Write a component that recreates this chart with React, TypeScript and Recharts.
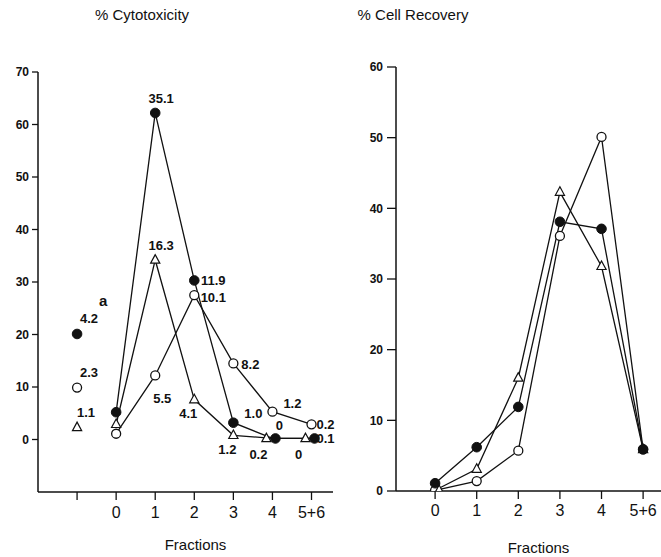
import React from "react";
import { LineChart, Line, XAxis, YAxis, LabelList, Label } from "recharts";

// ---------- data ----------
const fractionLabels = ["", "0", "1", "2", "3", "4", "5+6"];
const cytoPositions = [-1, 0, 1, 2, 3, 4, 5];
const cytoTicksY = [0, 10, 20, 30, 40, 50, 60, 70];

const cytoFilled = [20.1, 5.2, 62.2, 30.3, 3.2, 0.2, 0.2];
const cytoOpen = [9.9, 1.1, 12.2, 27.5, 14.5, 5.3, 2.9];
const cytoTri = [2.3, 2.9, 34.2, 7.6, 0.8, 0.2, 0.2];

const cytoFilledLabels = ["4.2", "", "35.1", "11.9", "1.0", "0", "0.1"];
const cytoOpenLabels = ["2.3", "", "5.5", "10.1", "8.2", "1.2", "0.2"];
const cytoTriLabels = ["1.1", "", "16.3", "4.1", "1.2", "0.2", "0"];

const recPositions = [0, 1, 2, 3, 4, 5];
const recTicksY = [0, 10, 20, 30, 40, 50, 60];
const recFilled = [1.1, 6.2, 11.9, 38.1, 37.1, 5.9];
const recOpen = [0.1, 1.4, 5.7, 36.1, 50.1, 5.9];
const recTri = [0.1, 3.1, 16.0, 42.3, 31.8, 5.9];

// ---------- label placement (style only) ----------
const filledLabelOffsets = [[12, -15], [0, 0], [6, -14], [19, 0], [20, -9], [7, -13], [14, 0]];
const openLabelOffsets = [[12, -15], [0, 0], [7, 23], [19, 2], [17, 1], [20, -8], [14, 0]];
const triLabelOffsets = [[9, -15], [0, 0], [6, -14], [-6, 14], [-6, 14], [-14, 16], [-13, 16]];

// ---------- table building ----------
const cytoData = cytoPositions.map((x, i) => ({
  x,
  fAll: cytoFilled[i],
  f: i === 0 ? null : cytoFilled[i],
  fLab: cytoFilledLabels[i],
  oAll: cytoOpen[i],
  o: i === 0 ? null : cytoOpen[i],
  oLab: cytoOpenLabels[i],
  tAll: cytoTri[i],
  t: i === 0 ? null : cytoTri[i],
  tLab: cytoTriLabels[i],
}));

const recData = recPositions.map((x, i) => ({
  x,
  f: recFilled[i],
  o: recOpen[i],
  t: recTri[i],
}));

const FONT = "'Liberation Sans', Arial, sans-serif";
const INK = "#111";

type Kind = "filled" | "open" | "tri";

function makeDot(kind: Kind, nudge?: (index: number, value: number) => number) {
  return (p: any) => {
    const key = `d-${kind}-${p.index}`;
    if (p.cx == null || p.cy == null || p.value == null) return <g key={key} />;
    const dx = nudge ? nudge(p.index, p.value) : 0;
    const cx = p.cx + dx;
    const cy = p.cy;
    if (kind === "filled") return <circle key={key} cx={cx} cy={cy} r={4.8} fill={INK} stroke={INK} />;
    if (kind === "open")
      return <circle key={key} cx={cx} cy={cy} r={4.5} fill="#fff" stroke={INK} strokeWidth={1.3} />;
    const s = 4.6;
    return (
      <polygon
        key={key}
        points={`${cx},${cy - s * 1.15} ${cx - s},${cy + s * 0.7} ${cx + s},${cy + s * 0.7}`}
        fill="#fff"
        stroke={INK}
        strokeWidth={1.2}
      />
    );
  };
}

function makeLabel(offsets: number[][]) {
  return (p: any) => {
    const x = p.x ?? p.viewBox?.x;
    const y = p.y ?? p.viewBox?.y;
    if (!p.value || x == null || y == null) return null;
    const [dx, dy] = offsets[p.index] || [0, 0];
    return (
      <text
        key={`l-${p.index}-${p.value}`}
        x={x + dx}
        y={y + dy}
        textAnchor="middle"
        dominantBaseline="central"
        fontFamily={FONT}
        fontSize={13}
        fontWeight="bold"
        fill={INK}
      >
        {p.value}
      </text>
    );
  };
}

const fractionsLabel = (dx: number, dy: number) => (p: any) => {
  const vb = p.viewBox || {};
  return (
    <text
      x={vb.x + vb.width / 2 + dx}
      y={vb.y + dy}
      textAnchor="middle"
      fontFamily={FONT}
      fontSize={15}
      fill={INK}
    >
      Fractions
    </text>
  );
};

const tickFmt = (v: number) => fractionLabels[v + 1] ?? "";

// nudges so overlapping zero points stay visible (style only)
const filledNudge = (i: number, v: number) => (i >= 5 && v < 1 ? 3 : 0);
const triNudge = (i: number, v: number) => (i >= 5 && v < 1 ? -6 : 0);

export default function App() {
  return (
    <div style={{ position: "absolute", left: 0, top: 0, width: 661, height: 557, background: "#fff", fontFamily: FONT }}>
      <div style={{ position: "absolute", left: 42, width: 200, top: 6, textAlign: "center", fontSize: 15, color: INK }}>
        % Cytotoxicity
      </div>
      <div style={{ position: "absolute", left: 313, width: 200, top: 6, textAlign: "center", fontSize: 15, color: INK }}>
        % Cell Recovery
      </div>
      <div style={{ position: "absolute", left: 99, top: 292, fontSize: 15, fontWeight: "bold", color: INK }}>a</div>

      <div style={{ position: "absolute", left: 0, top: 0 }}>
        <LineChart width={340} height={557} data={cytoData} margin={{ top: 72, right: 7, bottom: 13, left: 0 }}>
          <XAxis
            type="number"
            dataKey="x"
            domain={[-2, 5.55]}
            ticks={cytoPositions}
            tickFormatter={tickFmt}
            allowDataOverflow
            interval={0}
            height={52}
            tickSize={8}
            tickMargin={7}
            axisLine={{ stroke: INK, strokeWidth: 1.5 }}
            tickLine={{ stroke: INK, strokeWidth: 1.3 }}
            tick={{ fontSize: 16, fill: INK, fontFamily: FONT }}
          >
            <Label content={fractionsLabel(10, 58)} />
          </XAxis>
          <YAxis
            type="number"
            domain={[-10, 70]}
            ticks={cytoTicksY}
            allowDataOverflow
            interval={0}
            width={38}
            tickSize={6}
            tickMargin={3}
            axisLine={{ stroke: INK, strokeWidth: 1.5 }}
            tickLine={{ stroke: INK, strokeWidth: 1.3 }}
            tick={{ fontSize: 12, fill: INK, fontFamily: FONT, fontWeight: "bold" }}
          />
          <Line dataKey="o" stroke={INK} strokeWidth={1.3} dot={false} isAnimationActive={false} />
          <Line dataKey="t" stroke={INK} strokeWidth={1.3} dot={false} isAnimationActive={false} />
          <Line dataKey="f" stroke={INK} strokeWidth={1.3} dot={false} isAnimationActive={false} />
          <Line dataKey="oAll" stroke="none" dot={makeDot("open")} isAnimationActive={false}>
            <LabelList dataKey="oLab" content={makeLabel(openLabelOffsets)} />
          </Line>
          <Line dataKey="tAll" stroke="none" dot={makeDot("tri", triNudge)} isAnimationActive={false}>
            <LabelList dataKey="tLab" content={makeLabel(triLabelOffsets)} />
          </Line>
          <Line dataKey="fAll" stroke="none" dot={makeDot("filled", filledNudge)} isAnimationActive={false}>
            <LabelList dataKey="fLab" content={makeLabel(filledLabelOffsets)} />
          </Line>
        </LineChart>
      </div>

      <div style={{ position: "absolute", left: 330, top: 0 }}>
        <LineChart width={331} height={557} data={recData} margin={{ top: 67, right: 0, bottom: 14, left: 0 }}>
          <XAxis
            type="number"
            dataKey="x"
            domain={[-0.94, 5.43]}
            ticks={recPositions}
            tickFormatter={(v: number) => fractionLabels[v + 1] ?? ""}
            allowDataOverflow
            interval={0}
            height={52}
            tickSize={8}
            tickMargin={6}
            axisLine={{ stroke: INK, strokeWidth: 1.5 }}
            tickLine={{ stroke: INK, strokeWidth: 1.3 }}
            tick={{ fontSize: 16, fill: INK, fontFamily: FONT }}
          >
            <Label content={fractionsLabel(10, 62)} />
          </XAxis>
          <YAxis
            type="number"
            domain={[0, 60]}
            ticks={recTicksY}
            allowDataOverflow
            interval={0}
            width={66}
            tickSize={9}
            tickMargin={4}
            axisLine={{ stroke: INK, strokeWidth: 1.5 }}
            tickLine={{ stroke: INK, strokeWidth: 1.3 }}
            tick={{ fontSize: 12, fill: INK, fontFamily: FONT, fontWeight: "bold" }}
          />
          <Line dataKey="o" stroke={INK} strokeWidth={1.3} dot={makeDot("open")} isAnimationActive={false} />
          <Line dataKey="t" stroke={INK} strokeWidth={1.3} dot={makeDot("tri", (i) => (i === 0 ? 4 : 0))} isAnimationActive={false} />
          <Line dataKey="f" stroke={INK} strokeWidth={1.3} dot={makeDot("filled")} isAnimationActive={false} />
        </LineChart>
      </div>
    </div>
  );
}
